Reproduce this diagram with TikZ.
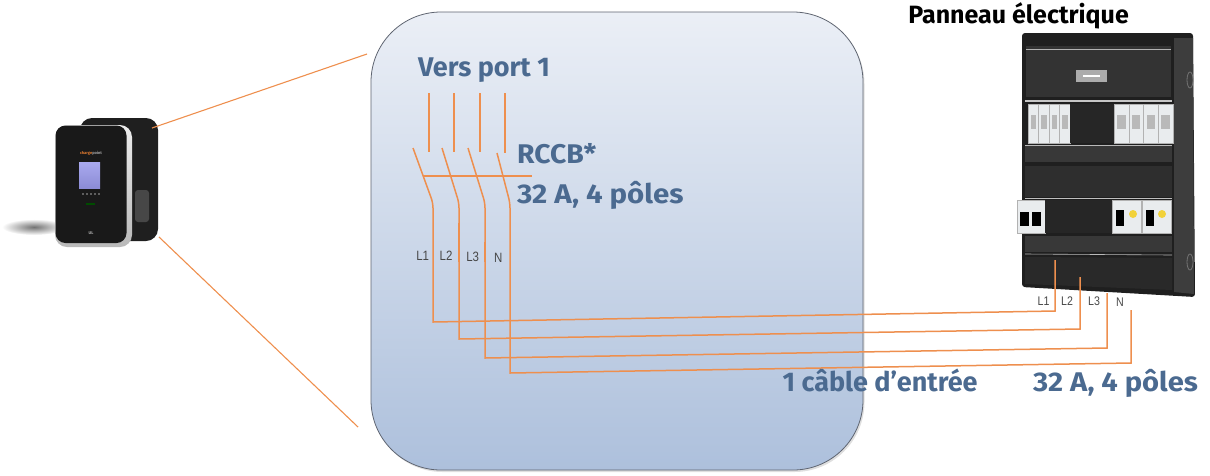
\documentclass[tikz,border=0pt]{standalone}
\usepackage{fontspec}
\setmainfont{Fira Sans}
\newfontfamily\labfont{Liberation Sans}
\usetikzlibrary{shadows}
\definecolor{wirec}{HTML}{EE8F4E}
\definecolor{bluetxt}{HTML}{4B6A90}
\definecolor{boxtop}{HTML}{EBEFF6}
\definecolor{boxbot}{HTML}{ADC0DC}
\definecolor{boxedge}{HTML}{5E6470}
\definecolor{screenA}{HTML}{A9A9EE}
\definecolor{screenB}{HTML}{8C8CD6}
\definecolor{logoor}{HTML}{E07A2E}
\definecolor{breakw}{HTML}{E9ECEE}
\definecolor{knobY}{HTML}{F2D23A}
\begin{document}
\begin{tikzpicture}[x=1pt,y=-1pt,
  wire/.style={draw=wirec, line width=1.5pt},
  thin wire/.style={draw=wirec, line width=1.1pt},
  bigtxt/.style={text=bluetxt, font=\fontsize{27}{27}\selectfont\bfseries, inner sep=0pt, anchor=base west},
  ltxt/.style={text=black!72, font=\labfont\fontsize{13.5}{13.5}\selectfont, inner sep=0pt},
  rtxt/.style={text=black!72, font=\labfont\fontsize{12.5}{12.5}\selectfont, inner sep=0pt},
  mainbox/.style={draw=boxedge, line width=0.8pt, rounded corners=70pt, top color=boxtop, bottom color=boxbot,
     minimum width=492pt, minimum height=458pt, inner sep=0pt,
     drop shadow={opacity=0.25, shadow xshift=1.5pt, shadow yshift=-2pt}},
  module/.style={fill=breakw, draw=gray!60, line width=0.3pt},
]
\useasboundingbox (0,0) rectangle (1210,475);

% ---------- main box ----------
\node[mainbox] (box) at (617,241) {};

% ---------- charger (wallbox) ----------
\shade[inner color=black!55, outer color=white] (34,227) ellipse (32 and 8);
\fill[black!88, rounded corners=12pt] (80,118) rectangle (158,241);
\fill[black!72, rounded corners=3pt] (135,190) rectangle (149,222);
\shade[top color=gray!15, bottom color=gray!55, rounded corners=12pt] (55,125) rectangle (132,247);
\fill[black!90, rounded corners=10pt] (55.5,125.5) rectangle (126.5,243);
\node[inner sep=0pt, font=\fontsize{4}{4}\selectfont\bfseries] (logo) at (91,153) {\textcolor{logoor}{charge}\textcolor{gray!70}{point}};
\shade[top color=screenA, bottom color=screenB] (79,162) rectangle (100,188);
\foreach \lx in {83,87,91,95,99} \fill[gray!70] (\lx,194) circle (0.8);
\fill[green!30!black] (86,203) rectangle (95,204.5);
\node[inner sep=0pt, text=gray!60, font=\fontsize{4}{4}\selectfont\bfseries] (ul) at (91,233) {UL};
\coordinate (chgTop) at (152,128);
\coordinate (chgBot) at (159,237);
\coordinate (boxTL) at (367,54);
\coordinate (boxBL) at (358,427);
\draw[thin wire] (chgTop) -- (boxTL);
\draw[thin wire] (chgBot) -- (boxBL);

% ---------- electrical panel ----------
\fill[black!88, rounded corners=3pt] (1022,33) -- (1193,33) -- (1195,297) -- (1022,287) -- cycle;
\fill[black!76] (1174,38) -- (1193,38) -- (1194,294) -- (1174,292) -- cycle;
\draw[black!55, line width=0.8pt] (1190,80) ellipse (3 and 8);
\draw[black!55, line width=0.8pt] (1190,262) ellipse (3 and 8);
\fill[black!80] (1026,46) rectangle (1171,97);
\draw[gray!60, line width=0.6pt] (1026,49) -- (1171,49);
\fill[gray!65] (1076,70) rectangle (1107,82);
\fill[white] (1083,75) rectangle (1100,77);
\fill[gray!45] (1025,100) rectangle (1172,102);
\foreach \i in {0,1,2,3} {
  \fill[module] (1028+10.5*\i,104) rectangle (1038.5+10.5*\i,143);
  \fill[gray!55] (1030.5+10.5*\i,115) rectangle (1036+10.5*\i,129);
}
\foreach \i in {0,1,2,3} {
  \fill[module] (1114+14.75*\i,104) rectangle (1128.75+14.75*\i,143);
  \fill[gray!55] (1117+14.75*\i,115) rectangle (1125.5+14.75*\i,129);
}
\fill[black!85] (1070,104) rectangle (1114,143);
\fill[black!78] (1025,145) rectangle (1172,162);
\draw[gray!55, line width=0.6pt] (1025,145) -- (1172,145);
\fill[black!82] (1025,166) rectangle (1172,197);
\draw[gray!50, line width=0.5pt] (1025,198.5) -- (1172,198.5);
\fill[module] (1017,200) rectangle (1045,233);
\fill[black] (1020,212) rectangle (1029,226);
\fill[black] (1032,212) rectangle (1041,226);
\fill[black!85] (1045,200) rectangle (1112,233);
\fill[module] (1112,200) rectangle (1141,233);
\fill[module] (1142,200) rectangle (1171,233);
\fill[black] (1116,210) rectangle (1124,226);
\fill[black] (1146,210) rectangle (1154,226);
\fill[knobY] (1133,214) circle (4);
\fill[knobY] (1162,214) circle (4);
\fill[black!78] (1025,236) rectangle (1172,252);
\draw[gray!55, line width=0.6pt] (1025,254) -- (1172,255);
\fill[black!84] (1025,257) -- (1172,258) -- (1172,290) -- (1025,284) -- cycle;

\node[inner sep=0pt, anchor=base east, font=\fontsize{25}{25}\selectfont\bfseries] (title) at (1129,23) {Panneau électrique};

% ---------- switch (RCCB) ----------
\coordinate (p1a) at (429,93); \coordinate (p1b) at (429,152);
\coordinate (p2a) at (454,93); \coordinate (p2b) at (454,152);
\coordinate (p3a) at (480,93); \coordinate (p3b) at (480,152);
\coordinate (p4a) at (505,93); \coordinate (p4b) at (505,153);
\draw[wire] (p1a) -- (p1b);
\draw[wire] (p2a) -- (p2b);
\draw[wire] (p3a) -- (p3b);
\draw[wire] (p4a) -- (p4b);
\coordinate (barL) at (423,176); \coordinate (barR) at (532,176);
\draw[wire] (barL) -- (barR);

% blades + wires to panel
\coordinate (b1) at (413,148); \coordinate (k1) at (433,203); \coordinate (c1) at (433,322); \coordinate (r1) at (1055,311); \coordinate (e1) at (1055,260);
\coordinate (b2) at (442,148); \coordinate (k2) at (459,203); \coordinate (c2) at (459,339); \coordinate (r2) at (1080,329); \coordinate (e2) at (1080,277);
\coordinate (b3) at (468,148); \coordinate (k3) at (485,203); \coordinate (c3) at (485,358); \coordinate (r3) at (1107,348); \coordinate (e3) at (1107,293);
\coordinate (b4) at (497,153); \coordinate (k4) at (510,203); \coordinate (c4) at (510,373); \coordinate (r4) at (1131,363); \coordinate (e4) at (1131,310);
\foreach \n in {1,2,3,4}
  \draw[wire] (b\n) [rounded corners=5pt] -- (k\n) [sharp corners] -- (c\n) -- (r\n) -- (e\n);
\draw[draw=wirec, line width=2.4pt] (459,223) -- (459,262);
\draw[draw=wirec, line width=2.4pt] (485,242) -- (485,262);

% ---------- labels ----------
\node[ltxt] (lL1) at (422.7,255.5) {\scalebox{0.85}[1]{L1}};
\node[ltxt] (lL2) at (446,256) {\scalebox{0.85}[1]{L2}};
\node[ltxt] (lL3) at (472.7,256.5) {\scalebox{0.85}[1]{L3}};
\node[ltxt] (lN)  at (498.3,258) {\scalebox{0.85}[1]{N}};
\node[rtxt] (rL1) at (1043.5,301) {\scalebox{0.85}[1]{L1}};
\node[rtxt] (rL2) at (1067,301) {\scalebox{0.85}[1]{L2}};
\node[rtxt] (rL3) at (1094,301) {\scalebox{0.85}[1]{L3}};
\node[rtxt] (rN)  at (1120,302.5) {\scalebox{0.85}[1]{N}};

\node[bigtxt] (vers) at (418,76) {Vers port 1};
\node[bigtxt] (rccb) at (517,163) {\scalebox{1.05}[1]{RCCB*}};
\node[bigtxt] (rccbspec) at (517,203) {\scalebox{1.09}[1]{32 A, 4 pôles}};
\node[bigtxt] (cable) at (782.5,391) {1 câble d’entrée};
\node[bigtxt] (cablespec) at (1033,391.5) {\scalebox{1.08}[1]{32 A, 4 pôles}};
\end{tikzpicture}
\end{document}
